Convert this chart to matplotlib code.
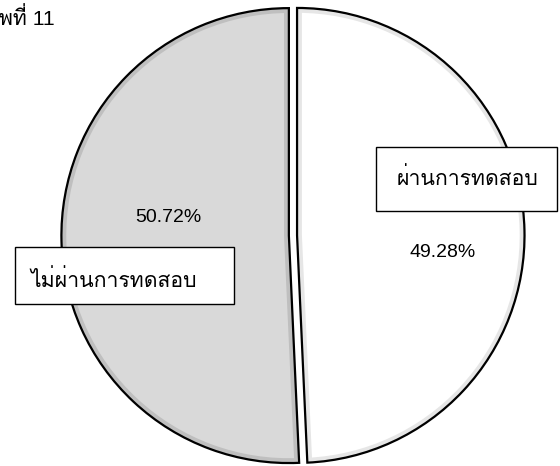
import matplotlib
matplotlib.use('Agg')
import matplotlib.pyplot as plt
from matplotlib.patches import Wedge, Rectangle

plt.rcParams['font.family'] = ['Loma', 'Liberation Sans', 'DejaVu Sans']

labels = ['ผ่านการทดสอบ', 'ไม่ผ่านการทดสอบ']
values = [49.28, 50.72]
fills = ['#ffffff', '#d9d9d9']
bands = ['#e6e6e6', '#bfbfbf']
title = 'ภาพที่ 11'

fig = plt.figure(figsize=(5.6, 4.66), dpi=100)
ax = fig.add_axes([0, 0, 1, 1])

wedges, _ = ax.pie(values, colors=fills, startangle=90, counterclock=False,
                   explode=[0.018, 0.018], wedgeprops=dict(linewidth=7))
for w, b in zip(wedges, bands):
    # inner bevel: thick edge clipped to the wedge itself
    w.set_edgecolor(b)
    w.set_clip_on(True)
    w.set_clip_path(w)
    ax.add_patch(Wedge(w.center, w.r, w.theta1, w.theta2, fill=False,
                       edgecolor='black', linewidth=1.6, clip_on=False))

ax.set_xlim(-1.288, 1.174)
ax.set_ylim(-1.013, 1.035)
ax.set_aspect('equal')
ax.axis('off')

# label boxes
ax.add_patch(Rectangle((0.671, 0.547), 0.324, 0.138, transform=ax.transAxes,
                       facecolor='white', edgecolor='black', linewidth=1.0))
ax.add_patch(Rectangle((0.027, 0.348), 0.391, 0.122, transform=ax.transAxes,
                       facecolor='white', edgecolor='black', linewidth=1.0))
ax.text(0.709, 0.603, labels[0], transform=ax.transAxes, fontsize=15.3,
        va='baseline', ha='left')
ax.text(0.055, 0.385, labels[1], transform=ax.transAxes, fontsize=15.3,
        va='baseline', ha='left')

# percentages
pct_pos = [(0.732, 0.449), (0.241, 0.524)]
for v, (x, y) in zip(values, pct_pos):
    ax.text(x, y, '%.2f%%' % v, transform=ax.transAxes, fontsize=14,
            family='Liberation Sans', va='baseline', ha='left')

fig.text(0.098, 0.946, title, fontsize=15.3, ha='right', va='baseline',
         family=['Liberation Sans', 'Loma'])

fig.savefig('out.png', dpi=100)
